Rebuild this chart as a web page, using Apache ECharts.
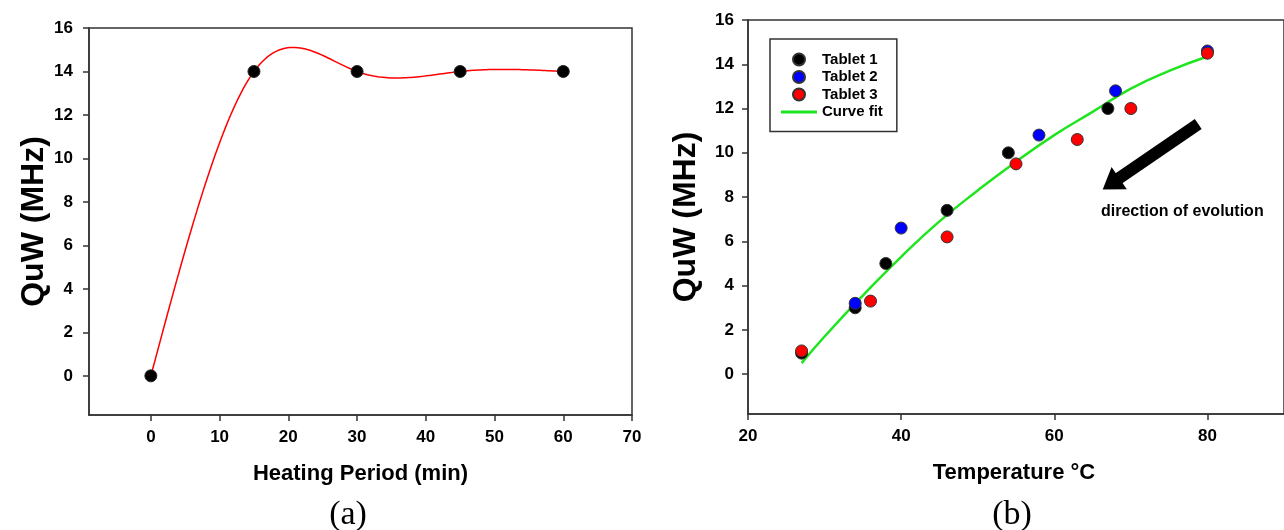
<!DOCTYPE html>
<html>
<head>
<meta charset="utf-8">
<script src="https://cdn.jsdelivr.net/npm/echarts@6/dist/echarts.min.js"></script>
<style>
html,body{margin:0;padding:0;background:#fff;}
#chart{width:1284px;height:530px;}
</style>
</head>
<body>
<div id="chart"></div>
<script>
// ---- Data ----
const heatingTime = [0, 15, 30, 45, 60];
const heatingQuW = [0, 14, 14, 14, 14];

const tablet1Temp = [27, 34, 38, 46, 54, 67];
const tablet1QuW = [0.95, 3.0, 5.0, 7.4, 10.0, 12.0];
const tablet2Temp = [34, 40, 58, 68, 80];
const tablet2QuW = [3.2, 6.6, 10.8, 12.8, 14.6];
const tablet3Temp = [27, 36, 46, 55, 63, 70, 80];
const tablet3QuW = [1.05, 3.3, 6.2, 9.5, 10.6, 12.0, 14.5];
const fitTemp = [27, 30, 35, 40, 45, 50, 55, 60, 65, 70, 75, 80];
const fitQuW = [0.5, 1.7, 3.55, 5.3, 6.9, 8.3, 9.6, 10.8, 11.85, 12.9, 13.7, 14.35];

const yTicks = [0, 2, 4, 6, 8, 10, 12, 14, 16];
const xTicksA = [0, 10, 20, 30, 40, 50, 60, 70];
const xTicksB = [20, 40, 60, 80];

const arrowFrom = [78.8, 11.3];
const arrowTo = [67.4, 8.6];

// ---- helpers ----
const FONT = '"Liberation Sans", Arial, Helvetica, sans-serif';
const AX = '#333';
function zip(a, b) { return a.map((v, i) => [v, b[i]]); }

// natural cubic spline second derivatives (SigmaPlot-style spline line)
function splineM(xs, ys) {
  const n = xs.length, M = new Array(n).fill(0);
  if (n < 3) return M;
  const a = [], b = [], c = [], d = [];
  for (let i = 1; i < n - 1; i++) {
    const h0 = xs[i] - xs[i - 1], h1 = xs[i + 1] - xs[i];
    a.push(h0 / 6); b.push((h0 + h1) / 3); c.push(h1 / 6);
    d.push((ys[i + 1] - ys[i]) / h1 - (ys[i] - ys[i - 1]) / h0);
  }
  const m = b.length;
  for (let i = 1; i < m; i++) {
    const w = a[i] / b[i - 1];
    b[i] -= w * c[i - 1]; d[i] -= w * d[i - 1];
  }
  const sol = new Array(m);
  sol[m - 1] = d[m - 1] / b[m - 1];
  for (let i = m - 2; i >= 0; i--) sol[i] = (d[i] - c[i] * sol[i + 1]) / b[i];
  for (let i = 0; i < m; i++) M[i + 1] = sol[i];
  return M;
}
const heatM = splineM(heatingTime, heatingQuW);

function renderSpline(params, api) {
  const i = params.dataIndex;
  if (i >= heatingTime.length - 1) return null;
  const x0 = heatingTime[i], x1 = heatingTime[i + 1];
  const y0 = heatingQuW[i], y1 = heatingQuW[i + 1];
  const h = x1 - x0, M0 = heatM[i], M1 = heatM[i + 1];
  const pts = [];
  const N = 40;
  for (let k = 0; k <= N; k++) {
    const x = x0 + h * k / N;
    const u = x1 - x, s = x - x0;
    const y = M0 * u * u * u / (6 * h) + M1 * s * s * s / (6 * h) +
      (y0 / h - M0 * h / 6) * u + (y1 / h - M1 * h / 6) * s;
    pts.push(api.coord([x, y]));
  }
  return {
    type: 'polyline',
    shape: { points: pts },
    style: { stroke: '#ff0000', lineWidth: 1.5, fill: null }
  };
}

const tickLabel = { fontSize: 17, fontWeight: 'bold', color: '#000', fontFamily: FONT };
const nameStyleX = { fontSize: 22, fontWeight: 'bold', color: '#000', fontFamily: FONT };
const nameStyleY = { fontSize: 32, fontWeight: 'bold', color: '#000', fontFamily: FONT };
const axisLineCfg = { show: true, onZero: false, lineStyle: { color: AX, width: 1.5 } };
const tickCfg = (vals) => ({ show: true, inside: false, length: 6, customValues: vals, lineStyle: { color: AX, width: 1.5 } });

const chart = echarts.init(document.getElementById('chart'), null, { renderer: 'canvas' });
const option = {
  animation: false,
  backgroundColor: '#fff',
  grid: [
    { left: 89, top: 28, width: 543, height: 387, show: true, borderColor: AX, borderWidth: 1.5, backgroundColor: 'transparent', containLabel: false },
    { left: 748, top: 20, width: 548, height: 394, show: true, borderColor: AX, borderWidth: 1.5, backgroundColor: 'transparent', containLabel: false }
  ],
  xAxis: [
    {
      type: 'value', gridIndex: 0, min: -9, max: 70,
      axisLine: axisLineCfg,
      axisTick: tickCfg(xTicksA),
      axisLabel: Object.assign({ customValues: xTicksA, margin: 14 }, tickLabel),
      splitLine: { show: false },
      name: 'Heating Period (min)', nameLocation: 'middle', nameGap: 48,
      nameTextStyle: nameStyleX
    },
    {
      type: 'value', gridIndex: 1, min: 20, max: 90,
      axisLine: axisLineCfg,
      axisTick: tickCfg(xTicksB),
      axisLabel: Object.assign({ customValues: xTicksB, margin: 14 }, tickLabel),
      splitLine: { show: false },
      name: 'Temperature °C', nameLocation: 'middle', nameGap: 48,
      nameTextStyle: Object.assign({ padding: [0, 4, 0, 0] }, nameStyleX)
    }
  ],
  yAxis: [
    {
      type: 'value', gridIndex: 0, min: -1.8, max: 16,
      axisLine: axisLineCfg,
      axisTick: tickCfg(yTicks),
      axisLabel: Object.assign({ customValues: yTicks, margin: 16 }, tickLabel),
      splitLine: { show: false },
      name: 'QuW (MHz)', nameLocation: 'middle', nameGap: 38,
      nameTextStyle: nameStyleY
    },
    {
      type: 'value', gridIndex: 1, min: -1.8, max: 16,
      axisLine: axisLineCfg,
      axisTick: tickCfg(yTicks),
      axisLabel: Object.assign({ customValues: yTicks, margin: 14 }, tickLabel),
      splitLine: { show: false },
      name: 'QuW (MHz)', nameLocation: 'middle', nameGap: 46,
      nameTextStyle: nameStyleY
    }
  ],
  legend: {
    data: [
      { name: 'Tablet 1', icon: 'circle' },
      { name: 'Tablet 2', icon: 'circle' },
      { name: 'Tablet 3', icon: 'circle' },
      { name: 'Curve fit', icon: 'path://M0,0h36v3H0z', itemStyle: { color: '#1ee51e' } }
    ],
    orient: 'vertical', left: 770, top: 39,
    itemWidth: 36, itemHeight: 12, itemGap: 2.5,
    padding: [13, 14, 12, 11],
    borderColor: AX, borderWidth: 1.5, backgroundColor: '#fff',
    textStyle: { fontSize: 15, fontWeight: 'bold', color: '#000', fontFamily: FONT },
    selectedMode: false
  },
  series: [
    {
      name: 'spline', type: 'custom', xAxisIndex: 0, yAxisIndex: 0,
      data: zip(heatingTime, heatingQuW), renderItem: renderSpline, silent: true, z: 2,
      clip: true
    },
    {
      name: 'Heating', type: 'scatter', xAxisIndex: 0, yAxisIndex: 0,
      data: zip(heatingTime, heatingQuW), symbolSize: 12,
      itemStyle: { color: '#000', borderColor: '#222', borderWidth: 1, opacity: 1 }, z: 3, silent: true
    },
    {
      name: 'Curve fit', type: 'line', xAxisIndex: 1, yAxisIndex: 1,
      data: zip(fitTemp, fitQuW), smooth: true, symbol: 'none',
      lineStyle: { color: '#1ee51e', width: 2.5 }, itemStyle: { color: '#1ee51e' }, z: 2, silent: true,
      markLine: {
        silent: true, animation: false,
        symbol: ['none', 'triangle'], symbolSize: [27, 20],
        lineStyle: { color: '#000', width: 12, type: 'solid', cap: 'butt' },
        itemStyle: { color: '#000' },
        label: { show: false },
        emphasis: { disabled: true },
        data: [[{ coord: arrowFrom }, { coord: arrowTo }]]
      }
    },
    {
      name: 'Tablet 1', type: 'scatter', xAxisIndex: 1, yAxisIndex: 1,
      data: zip(tablet1Temp, tablet1QuW), symbolSize: 12,
      itemStyle: { color: '#000', borderColor: '#333', borderWidth: 1, opacity: 1 }, z: 3, silent: true
    },
    {
      name: 'Tablet 2', type: 'scatter', xAxisIndex: 1, yAxisIndex: 1,
      data: zip(tablet2Temp, tablet2QuW), symbolSize: 12,
      itemStyle: { color: '#0000ff', borderColor: '#333', borderWidth: 1, opacity: 1 }, z: 4, silent: true
    },
    {
      name: 'Tablet 3', type: 'scatter', xAxisIndex: 1, yAxisIndex: 1,
      data: zip(tablet3Temp, tablet3QuW), symbolSize: 12,
      itemStyle: { color: '#ff0000', borderColor: '#333', borderWidth: 1, opacity: 1 }, z: 5, silent: true
    }
  ],
  graphic: [
    { type: 'text', x: 1101, y: 212, style: { text: 'direction of evolution', font: 'bold 16px ' + FONT, fill: '#000', verticalAlign: 'middle' } },
    { type: 'text', x: 348, y: 515, style: { text: '(a)', font: '34px "Liberation Serif", "Times New Roman", serif', fill: '#000', align: 'center', verticalAlign: 'middle' } },
    { type: 'text', x: 1012, y: 515, style: { text: '(b)', font: '34px "Liberation Serif", "Times New Roman", serif', fill: '#000', align: 'center', verticalAlign: 'middle' } }
  ]
};
chart.setOption(option);
</script>
</body>
</html>
